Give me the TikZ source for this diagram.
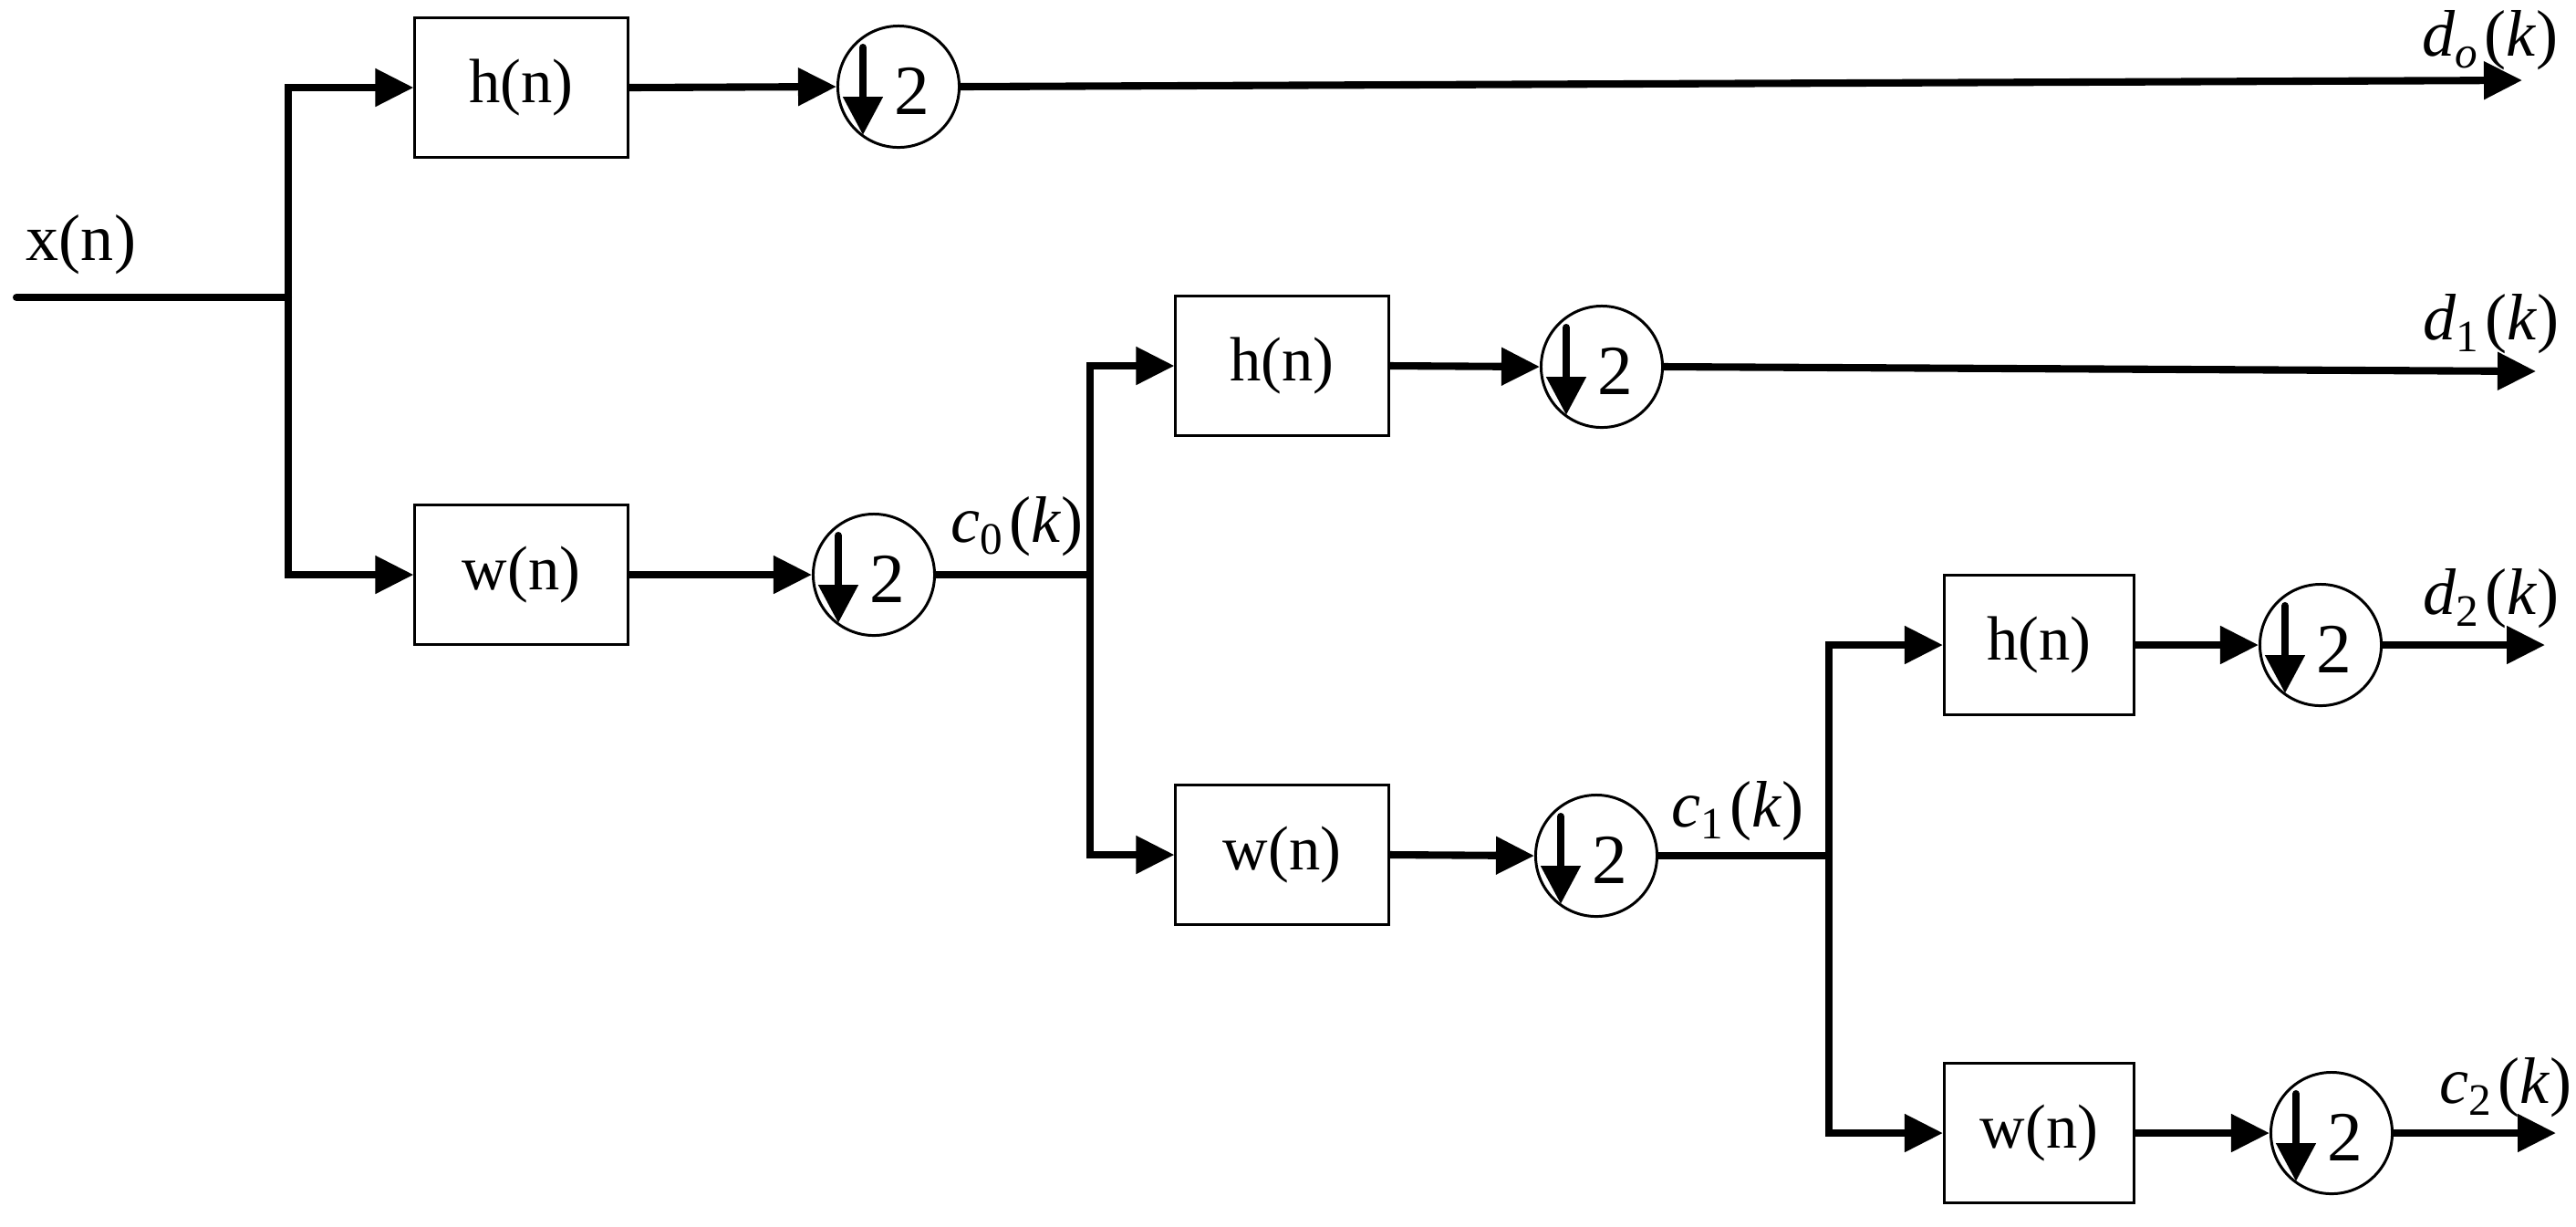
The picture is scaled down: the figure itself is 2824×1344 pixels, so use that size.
\documentclass[tikz,border=0pt]{standalone}
\usepackage{fontspec}
\setmainfont{Liberation Serif}
\usetikzlibrary{arrows.meta}
\newcommand\sigl[2]{\textit{#1}\raisebox{-0.4ex}{\fontsize{14}{14}\selectfont #2}\kern2pt(\textit{k})}
\begin{document}
\begin{tikzpicture}[x=0.01cm,y=-0.01cm,
  wire/.style={line width=2.3pt},
  arr/.style={wire,-{Triangle[length=0.42cm,width=0.40cm]}},
  fbox/.style={draw,line width=0.85pt,minimum width=2.33cm,minimum height=1.52cm,inner sep=0pt,font=\fontsize{19.5}{22}\selectfont},
  sbox/.style={fbox,minimum width=2.08cm},
  lab/.style={inner sep=0pt,font=\fontsize{20.5}{23}\selectfont},
  down/.style={circle,draw,line width=0.85pt,minimum size=1.33cm,inner sep=0pt,
    path picture={
      \draw[line width=2.3pt,line cap=round,-{Triangle[length=0.42cm,width=0.42cm]}]
        ([shift={(-0.39cm,0.43cm)}]path picture bounding box.center) -- ++(0,-0.96cm);
      \node[inner sep=0pt,font=\fontsize{22}{24}\selectfont] at ([shift={(0.15cm,-0.05cm)}]path picture bounding box.center) {2};
    }}]
\useasboundingbox (0,0) rectangle (2824,1344);

% input
\coordinate (in) at (18,326);
\coordinate (j1) at (316,326);
\node[lab] (xl) at (89,268) {x(n)};

% level 1
\node[fbox] (h1) at (571.5,96) {h(n)};
\node[fbox] (w1) at (571.5,630) {w(n)};
\node[down] (dh1) at (985,95) {};
\node[down] (dw1) at (958,630) {};
\coordinate (o1) at (2765,88);
\coordinate (j2) at (1195,630);

% level 2
\node[fbox] (h2) at (1405.5,401) {h(n)};
\node[fbox] (w2) at (1405.5,937) {w(n)};
\node[down] (dh2) at (1756,402) {};
\node[down] (dw2) at (1750,938) {};
\coordinate (o2) at (2780,407);
\coordinate (j3) at (2005,938);

% level 3
\node[sbox] (h3) at (2235.5,707) {h(n)};
\node[sbox] (w3) at (2235.5,1242) {w(n)};
\node[down] (dh3) at (2544,707) {};
\node[down] (dw3) at (2556,1242) {};
\coordinate (o3) at (2790,707);
\coordinate (o4) at (2802,1242);

% labels
\node[lab] (ldo) at (2730,44) {\sigl{d}{\textit{o}}};
\node[lab] (ld1) at (2731,355) {\sigl{d}{1}};
\node[lab] (ld2) at (2731,656) {\sigl{d}{2}};
\node[lab] (lc0) at (1115,577) {\sigl{c}{0}};
\node[lab] (lc1) at (1905,889) {\sigl{c}{1}};
\node[lab] (lc2) at (2747,1192) {\sigl{c}{2}};

% wires
\draw[wire,line cap=round] (in) -- (j1);
\draw[arr] (j1) |- (h1.west);
\draw[arr] (j1) |- (w1.west);
\draw[arr] (h1.east) -- (dh1.west);
\draw[arr] (w1.east) -- (dw1.west);
\draw[arr] (dh1.east) -- (o1);
\draw[wire] (dw1.east) -- (j2);

\draw[arr] (j2) |- (h2.west);
\draw[arr] (j2) |- (w2.west);
\draw[arr] (h2.east) -- (dh2.west);
\draw[arr] (w2.east) -- (dw2.west);
\draw[arr] (dh2.east) -- (o2);
\draw[wire] (dw2.east) -- (j3);

\draw[arr] (j3) |- (h3.west);
\draw[arr] (j3) |- (w3.west);
\draw[arr] (h3.east) -- (dh3.west);
\draw[arr] (w3.east) -- (dw3.west);
\draw[arr] (dh3.east) -- (o3);
\draw[arr] (dw3.east) -- (o4);
\end{tikzpicture}
\end{document}
